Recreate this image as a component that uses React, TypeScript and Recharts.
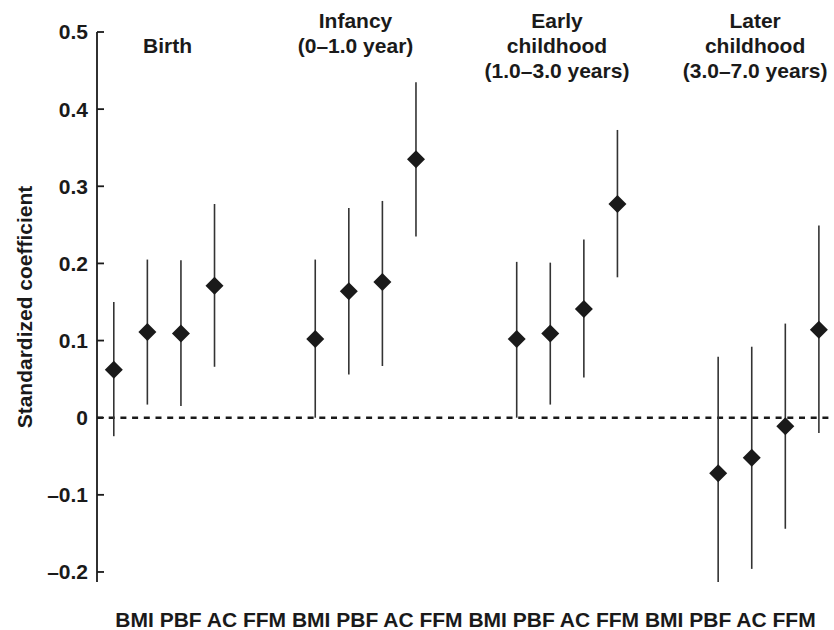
import {
  ComposedChart,
  Scatter,
  ErrorBar,
  XAxis,
  YAxis,
  ReferenceLine,
  ReferenceDot,
  Label,
} from "recharts";

const categories = ["BMI", "PBF", "AC", "FFM"];

const periodLabels = [
  ["Birth"],
  ["Infancy", "(0–1.0 year)"],
  ["Early", "childhood", "(1.0–3.0 years)"],
  ["Later", "childhood", "(3.0–7.0 years)"],
];

// standardized coefficients with lower / upper limits, one array per period
const birthCoef = [0.062, 0.111, 0.109, 0.171];
const birthLow = [-0.024, 0.017, 0.015, 0.066];
const birthHigh = [0.15, 0.205, 0.204, 0.277];

const infancyCoef = [0.102, 0.164, 0.176, 0.335];
const infancyLow = [0.0, 0.056, 0.067, 0.235];
const infancyHigh = [0.205, 0.272, 0.281, 0.435];

const earlyCoef = [0.102, 0.109, 0.141, 0.277];
const earlyLow = [0.0, 0.017, 0.052, 0.182];
const earlyHigh = [0.202, 0.201, 0.231, 0.373];

const laterCoef = [-0.072, -0.052, -0.011, 0.114];
const laterLow = [-0.213, -0.196, -0.144, -0.02];
const laterHigh = [0.079, 0.092, 0.122, 0.249];

const yTicks = [-0.2, -0.1, 0, 0.1, 0.2, 0.3, 0.4, 0.5];

const coefs = [birthCoef, infancyCoef, earlyCoef, laterCoef];
const lows = [birthLow, infancyLow, earlyLow, laterLow];
const highs = [birthHigh, infancyHigh, earlyHigh, laterHigh];

// each period takes 4 slots, followed by a gap of 2 empty slots
const SLOTS = 6;

const points = coefs.flatMap((vals, g) =>
  vals.map((v, i) => ({
    x: g * SLOTS + i,
    y: v,
    err: [v - lows[g][i], highs[g][i] - v],
  }))
);

// label anchors (layout only)
const labelX = [1.6, 7.2, 13.2, 19.1];
const labelStartLine = [1, 0, 0, 0];

const FONT = "'Liberation Sans', Arial, Helvetica, sans-serif";
const INK = "#1a1a1a";

const xLabelText = periodLabels.map(() => categories.join(" ")).join(" ");

function Diamond(props: any) {
  const { cx, cy } = props;
  const r = 9;
  return (
    <polygon
      points={`${cx},${cy - r} ${cx + r},${cy} ${cx},${cy + r} ${cx - r},${cy}`}
      fill={INK}
    />
  );
}

function PeriodLabel(props: any) {
  const { viewBox, lines, start } = props;
  const x = viewBox.x;
  const y = viewBox.y;
  return (
    <text
      textAnchor="middle"
      fontFamily={FONT}
      fontSize={21}
      fontWeight={700}
      fill={INK}
    >
      {lines.map((l: string, i: number) => (
        <tspan key={i} x={x} y={y - 4.5 + (i + start) * 25}>
          {l}
        </tspan>
      ))}
    </text>
  );
}

const fmt = (v: number) => (v === 0 ? "0" : v < 0 ? "–" + Math.abs(v).toFixed(1) : v.toFixed(1));

export default function App() {
  return (
    <div style={{ position: "absolute", left: 0, top: 0, background: "#fff" }}>
      <ComposedChart
        width={834}
        height={630}
        data={points}
        margin={{ top: 32, right: 0, bottom: 0, left: 0 }}
      >
        <XAxis
          dataKey="x"
          type="number"
          domain={[() => -0.5, () => 21.45]}
          height={48}
          tick={false}
          tickLine={false}
          axisLine={false}
        >
          <Label
            value={xLabelText}
            position="insideBottom"
            offset={3}
            style={{ fontFamily: FONT, fontSize: 21, fontWeight: 700, fill: INK }}
          />
        </XAxis>
        <YAxis
          type="number"
          width={97}
          domain={[() => -0.2, () => 0.5]}
          ticks={yTicks}
          tickFormatter={fmt}
          tickSize={-7}
          tickMargin={16}
          interval={0}
          axisLine={{ stroke: INK, strokeWidth: 1.8 }}
          tickLine={{ stroke: INK, strokeWidth: 1.8 }}
          tick={{ fill: INK, fontSize: 21, fontWeight: 700, fontFamily: FONT }}
        >
          <Label
            value="Standardized coefficient"
            angle={-90}
            position="insideLeft"
            offset={25}
            style={{
              textAnchor: "middle",
              fontFamily: FONT,
              fontSize: 21,
              fontWeight: 700,
              fill: INK,
            }}
          />
        </YAxis>
        <ReferenceLine
          y={0}
          stroke={INK}
          strokeWidth={2.6}
          strokeDasharray="6 5.7"
        />
        {periodLabels.map((lines, g) => (
          <ReferenceDot
            key={g}
            x={labelX[g]}
            y={0.5}
            r={0}
            stroke="none"
            fill="none"
            label={{
              content: (p: any) => (
                <PeriodLabel {...p} lines={lines} start={labelStartLine[g]} />
              ),
            }}
          />
        ))}
        <Scatter dataKey="y" shape={Diamond} isAnimationActive={false}>
          <ErrorBar
            dataKey="err"
            direction="y"
            width={0}
            stroke="#333"
            strokeWidth={1.6}
            isAnimationActive={false}
          />
        </Scatter>
      </ComposedChart>
    </div>
  );
}
